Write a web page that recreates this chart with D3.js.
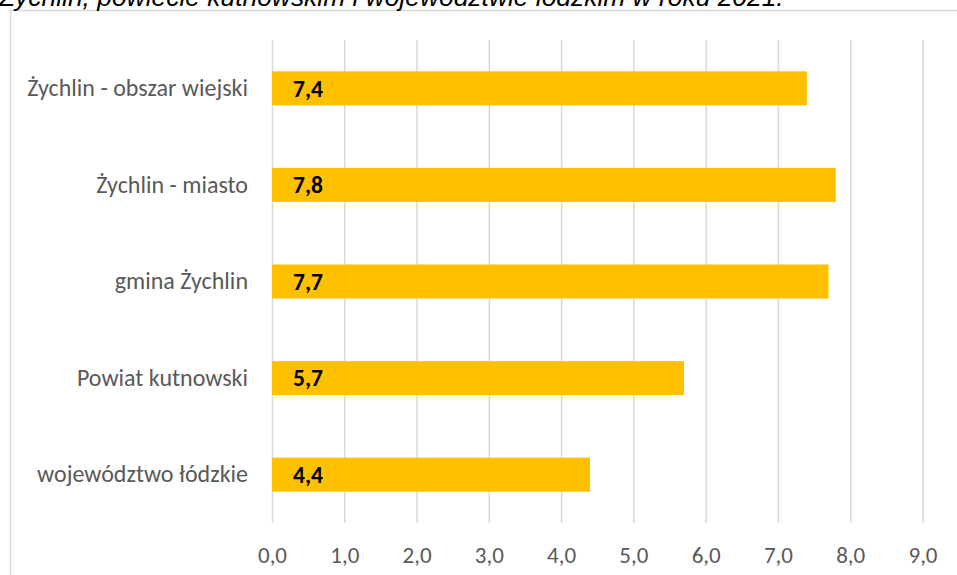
<!DOCTYPE html>
<html>
<head>
<meta charset="utf-8">
<script src="https://cdn.jsdelivr.net/npm/d3@7"></script>
<style>
  body { margin: 0; background: #fff; }
  svg { display: block; }
</style>
</head>
<body>
<div class="chart"></div>
<script>
const width = 957;
const height = 575;

const titleText = "Żychlin, powiecie kutnowskim i województwie łódzkim w roku 2021.";
const categories = ["Żychlin - obszar wiejski", "Żychlin - miasto", "gmina Żychlin", "Powiat kutnowski", "województwo łódzkie"];
const values = [7.4, 7.8, 7.7, 5.7, 4.4];
const tickValues = [0, 1, 2, 3, 4, 5, 6, 7, 8, 9];

const labelFont = "Calibri, Carlito, Lato, 'Open Sans', sans-serif";
const fmt = d => d.toFixed(1).replace(".", ",");

let svg = d3.select(".chart")
	.append("svg")
	.attr("width", width)
	.attr("height", height);

// chart frame (only top and left edges are visible)
svg.append("rect")
	.attr("x", 10.5)
	.attr("y", 10.5)
	.attr("width", width + 20)
	.attr("height", height + 20)
	.attr("fill", "none")
	.attr("stroke", "#d9d9d9")
	.attr("stroke-width", 1.5);

// title, cut off by the top of the picture like in the source
svg.append("text")
	.attr("x", -1)
	.attr("y", 6)
	.attr("font-family", "Arial, 'Liberation Sans', sans-serif")
	.attr("font-style", "italic")
	.attr("font-size", 26.4)
	.attr("fill", "#000")
	.text(titleText);

let x = d3.scaleLinear()
	.domain([0, 9])
	.range([272, 922.5]);

let y = d3.scaleBand()
	.domain(categories)
	.range([40, 523])
	.paddingInner(0.648)
	.paddingOuter(0.324);

// gridlines
svg.append("g")
	.selectAll("line")
	.data(tickValues)
	.enter()
	.append("line")
	.attr("x1", d => x(d) + 0.5)
	.attr("x2", d => x(d) + 0.5)
	.attr("y1", 40)
	.attr("y2", 523)
	.attr("stroke", "#d9d9d9")
	.attr("stroke-width", 1.5);

// x axis labels
let xAxis = d3.axisBottom(x)
	.tickValues(tickValues)
	.tickFormat(fmt)
	.tickSize(0)
	.tickPadding(0);

let gX = svg.append("g")
	.attr("transform", "translate(0,547)")
	.call(xAxis);
gX.select(".domain").remove();
gX.selectAll("text")
	.attr("dy", "0.71em")
	.attr("font-family", labelFont)
	.attr("font-size", 23)
	.attr("fill", "#595959");

// category labels
let yAxis = d3.axisLeft(y)
	.tickSize(0)
	.tickPadding(0);

let gY = svg.append("g")
	.attr("transform", "translate(248,0)")
	.call(yAxis);
gY.select(".domain").remove();
gY.selectAll("text")
	.attr("font-family", labelFont)
	.attr("font-size", 24)
	.attr("fill", "#595959");

// bars
let bars = svg.append("g")
	.selectAll(".bar")
	.data(categories)
	.enter()
	.append("g")
	.attr("class", "bar");

bars.append("rect")
	.attr("x", x(0))
	.attr("y", d => y(d))
	.attr("width", (d, i) => x(values[i]) - x(0))
	.attr("height", y.bandwidth())
	.attr("fill", "#ffc000");

bars.append("text")
	.attr("x", x(0) + 21)
	.attr("y", d => y(d) + y.bandwidth() / 2)
	.attr("dy", "0.35em")
	.attr("font-family", labelFont)
	.attr("font-size", 23.5)
	.attr("font-weight", "bold")
	.attr("fill", "#000")
	.text((d, i) => fmt(values[i]));
</script>
</body>
</html>
